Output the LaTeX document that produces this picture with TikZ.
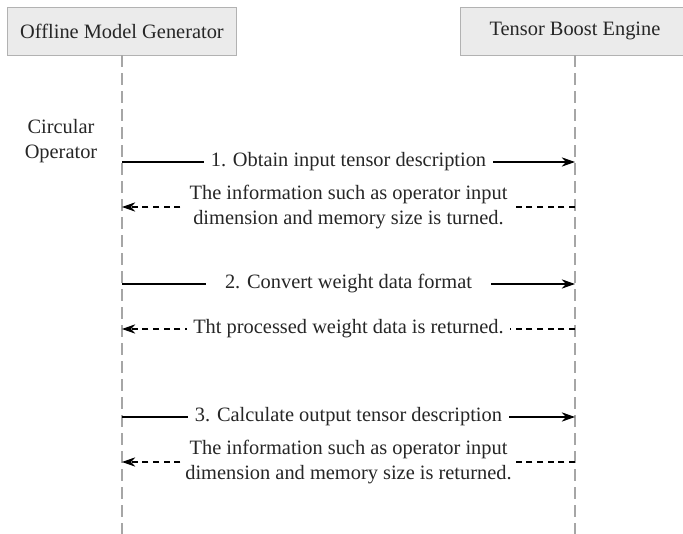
\documentclass[tikz,border=0pt]{standalone}
\usepackage{fontspec}
\setmainfont{Liberation Serif}
\usetikzlibrary{arrows.meta}

\begin{document}
\begin{tikzpicture}[x=0.75pt,y=-0.75pt,
  actor/.style={draw=black!30,fill=black!8,minimum width=171.75pt,minimum height=36pt,inner sep=0pt},
  life/.style={black!35,line width=0.8pt,dash pattern=on 9pt off 4.5pt},
  call/.style={line width=0.9pt,-{Stealth[length=10pt,width=7pt]}},
  reply/.style={line width=0.8pt,dash pattern=on 4.5pt off 3.5pt,-{Stealth[length=10pt,width=7pt]}},
  lbl/.style={fill=white,inner ysep=1pt,align=center,text=black!85},
  font=\fontsize{15.3}{18.75}\selectfont]
 \useasboundingbox (0,0) rectangle (683,534);
 \node[actor,text=black!85] (omg) at (122,31) {Offline Model Generator};
 \node[actor,text=black!85] (tbe) at (575,31) {Tensor Boost Engine};
 \coordinate (omgend) at (122,534); \coordinate (tbeend) at (575,534);
 \draw[life] (omg) -- (omgend);
 \draw[life] (tbe) -- (tbeend);
 \node[align=center,text=black!85] (circop) at (61,141) {Circular\\Operator};
 \foreach \n/\y in {1/162,2/207,3/284,4/329,5/417,6/462} {
  \coordinate (o\n) at (122,\y); \coordinate (t\n) at (575,\y);
 }
 \draw[call] (o1) -- node[lbl,inner xsep=5pt] {1. Obtain input tensor description} (t1);
 \draw[reply] (t2) -- node[lbl,inner xsep=6pt] {The information such as operator input\\dimension and memory size is turned.} (o2);
 \draw[call] (o3) -- node[lbl,inner xsep=14pt] {2. Convert weight data format} (t3);
 \draw[reply] (t4) -- node[lbl,inner xsep=5pt] {Tht processed weight data is returned.} (o4);
 \draw[call] (o5) -- node[lbl,inner xsep=5pt] {3. Calculate output tensor description} (t5);
 \draw[reply] (t6) -- node[lbl,inner xsep=3pt] {The information such as operator input\\dimension and memory size is returned.} (o6);
\end{tikzpicture}
\end{document}
